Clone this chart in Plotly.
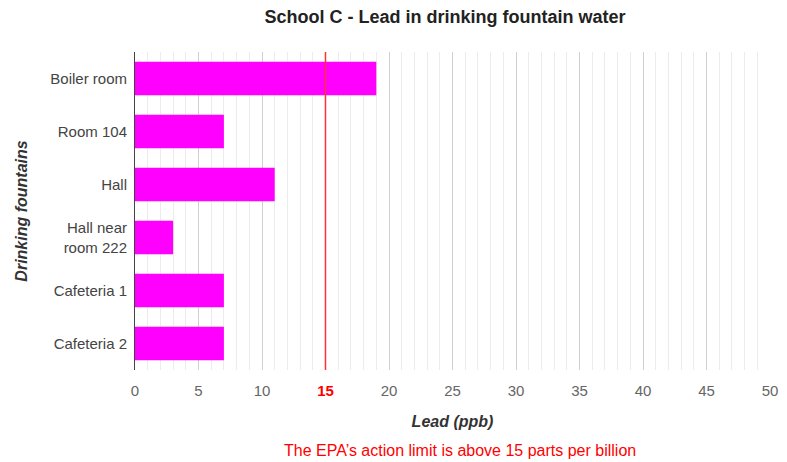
import plotly.graph_objects as go

fountains = ["Boiler room", "Room 104", "Hall", "Hall near<br>room 222", "Cafeteria 1", "Cafeteria 2"]
lead_ppb = [19, 7, 11, 3, 7, 7]
epa_limit = 15
x_ticks = [0, 5, 10, 15, 20, 25, 30, 35, 40, 45, 50]
x_tick_labels = ["<span style='color:#ff0000'><b>%d</b></span>" % t if t == epa_limit else str(t) for t in x_ticks]

fig = go.Figure()
fig.add_trace(go.Bar(
    y=fountains, x=lead_ppb, orientation="h",
    marker=dict(color="#ff00ff", line=dict(width=0)),
))

fig.add_shape(type="line", xref="x", yref="paper", x0=epa_limit, x1=epa_limit, y0=0, y1=1,
              line=dict(color="#ff3333", width=1.5))

fig.update_layout(
    width=779, height=454,
    margin=dict(l=127, r=17, t=44, b=92, autoexpand=False),
    paper_bgcolor="white", plot_bgcolor="white",
    bargap=0.37,
    showlegend=False,
    font=dict(family="Liberation Sans, Arial, sans-serif", size=15, color="#444"),
    title=dict(text="<b>School C - Lead in drinking fountain water</b>", x=0.561, xanchor="center",
               y=0.98, yanchor="middle", font=dict(size=18, color="#222")),
    xaxis=dict(range=[0, 50], tickvals=x_ticks, ticktext=x_tick_labels, automargin=False,
               ticklabeloverflow="allow",
               showgrid=True, gridcolor="#d0d0d0", gridwidth=1,
               minor=dict(dtick=1, showgrid=True, gridcolor="#ececec", gridwidth=1),
               zeroline=False, showline=False, ticks="", ticklabelstandoff=10,
               tickfont=dict(size=15, color="#666"),
               title=dict(text="<b><i>Lead (ppb)</i></b>", font=dict(size=16, color="#333"), standoff=17)),
    yaxis=dict(autorange="reversed", showline=True, linecolor="#444", linewidth=1, automargin=False,
               showgrid=False, ticks="", ticklabelstandoff=4,
               tickfont=dict(size=15, color="#444"),
               title=dict(text="<b><i>Drinking fountains</i></b>", font=dict(size=16, color="#333"), standoff=18)),
)

fig.add_annotation(text="The EPA\u2019s action limit is above 15 parts per billion", xref="paper", yref="paper",
                   x=0.512, y=-0.252, xanchor="center", yanchor="middle", showarrow=False,
                   font=dict(size=16, color="#ff0000"))

fig.write_html("out.html")
